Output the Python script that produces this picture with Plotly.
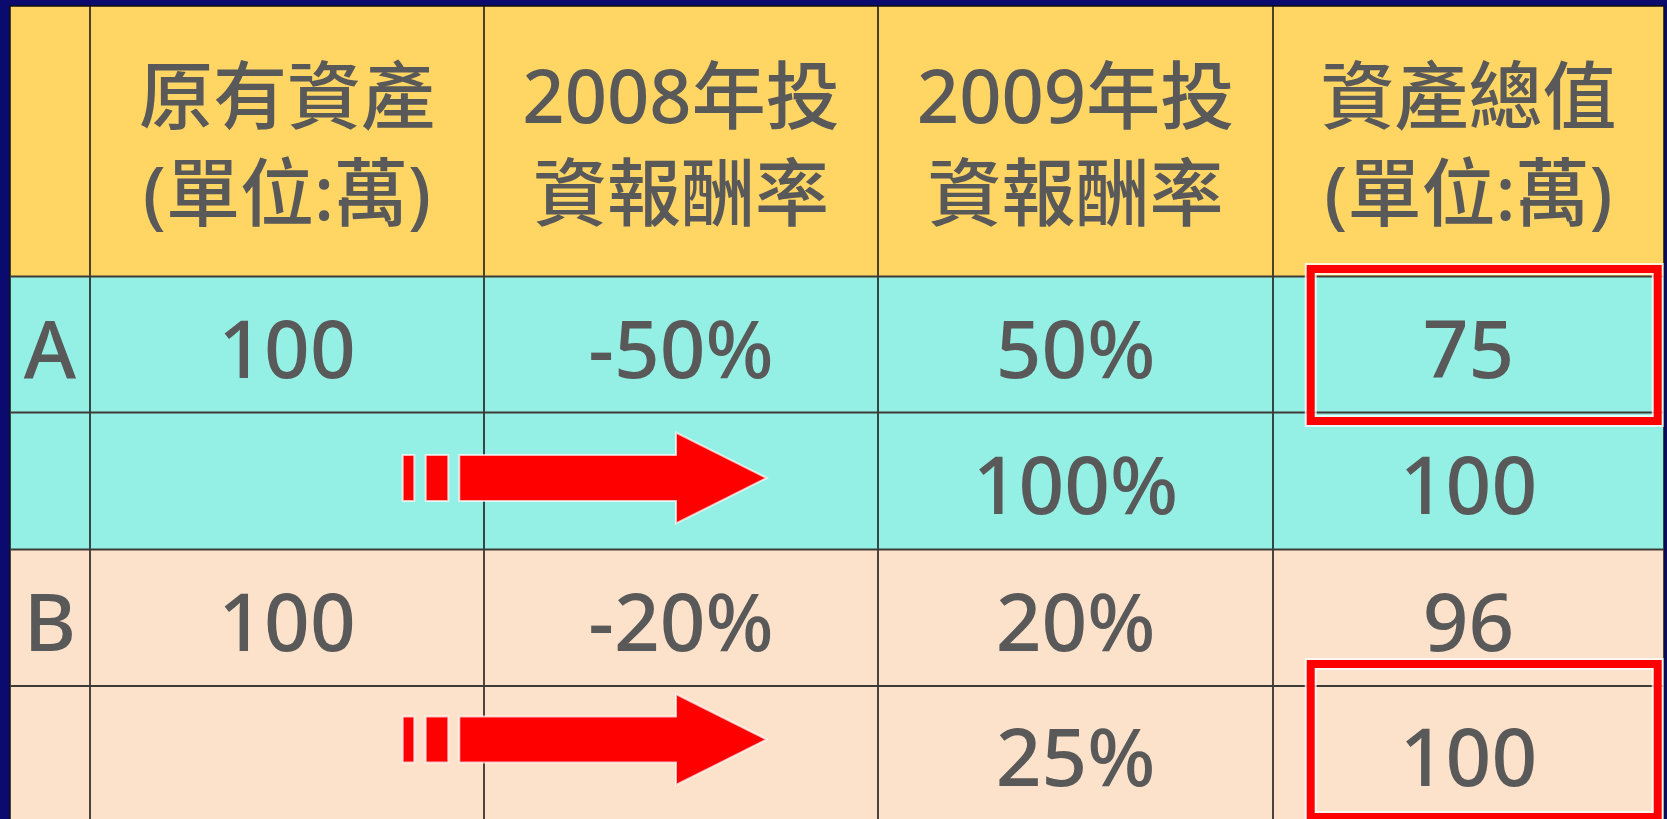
import plotly.graph_objects as go

# ---------------- data ----------------
header_line1 = ["原有資產", "2008年投", "2009年投", "資產總值"]
header_line2 = ["(單位:萬)", "資報酬率", "資報酬率", "(單位:萬)"]
row_labels = ["A", "", "B", ""]
original_assets = [100, None, 100, None]
return_2008 = [-50, None, -20, None]
return_2009 = [50, 100, 20, 25]
total_value = [75, 100, 96, 100]
highlight_rows = [0, 3]      # rows whose total value is boxed in red
arrow_rows = [1, 3]          # rows carrying the red arrow

# ---------------- layout constants ----------------
W, H = 1667, 819
NAVY = "#0B0A6E"
YELLOW = "#FFD563"
TEAL = "#94F0E4"
PEACH = "#FDE2CB"
TEXT = "#595959"
RED = "#FF0000"
col_edges = [10, 90, 484, 878, 1273, 1664]
row_edges = [6, 276.5, 412.5, 549.5, 686, 819]
row_fill = [TEAL, TEAL, PEACH, PEACH]
FONT = "Noto Sans, Noto Sans CJK TC, sans-serif"

col_c = [(col_edges[i] + col_edges[i + 1]) / 2 for i in range(5)]
row_c = [(row_edges[i + 1] + row_edges[i + 2]) / 2 for i in range(4)]
text_dy = 13

fig = go.Figure()
shapes = []

# backgrounds
shapes.append(dict(type="rect", xref="x", yref="y", x0=col_edges[0], x1=col_edges[-1],
                   y0=row_edges[0], y1=row_edges[1], fillcolor=YELLOW, line_width=0, layer="below"))
for r in range(4):
    shapes.append(dict(type="rect", xref="x", yref="y", x0=col_edges[0], x1=col_edges[-1],
                       y0=row_edges[r + 1], y1=row_edges[r + 2], fillcolor=row_fill[r],
                       line_width=0, layer="below"))

# grid lines
for i, x in enumerate(col_edges):
    shapes.append(dict(type="line", xref="x", yref="y", x0=x, x1=x, y0=row_edges[0], y1=row_edges[-1],
                       line=dict(color="#111111", width=1.5), layer="below"))
for j, y in enumerate(row_edges[:-1]):
    shapes.append(dict(type="line", xref="x", yref="y", x0=col_edges[0], x1=col_edges[-1], y0=y, y1=y,
                       line=dict(color="#3E3A36" if j > 0 else "#111111", width=2 if j > 0 else 1.5),
                       layer="below"))

# header text (two lines per cell)
headers = [f"{a}<br>{b}" for a, b in zip(header_line1, header_line2)]
hfont = dict(family=FONT, size=74, color=TEXT, weight=500)
fig.add_trace(go.Scatter(x=col_c[1:], y=[153] * 4, mode="text", text=headers,
                         textfont=hfont, hoverinfo="skip"))

# body text
def fmt(v, pct=False):
    if v is None:
        return ""
    return f"{v}%" if pct else f"{v}"

columns = [
    row_labels,
    [fmt(v) for v in original_assets],
    [fmt(v, True) for v in return_2008],
    [fmt(v, True) for v in return_2009],
    [fmt(v) for v in total_value],
]
for ci, col in enumerate(columns):
    fig.add_trace(go.Scatter(x=[col_c[ci]] * 4, y=[rc + text_dy for rc in row_c], mode="text",
                             text=col, textfont=dict(family=FONT, size=80, color=TEXT, weight=500),
                             hoverinfo="skip"))

# arrows
arrow_cy = {1: 478, 3: 739.5}
for r in arrow_rows:
    cy = arrow_cy[r]
    sh, hh = 23, 45.5
    halo = dict(color="rgba(255,255,255,0.7)", width=2)
    for (a, b) in [(402.7, 414.3), (425.7, 448.3)]:
        shapes.append(dict(type="rect", xref="x", yref="y", x0=a, x1=b, y0=cy - sh, y1=cy + sh,
                           fillcolor=RED, line=halo, layer="above"))
    path = (f"M 459.3 {cy - sh} L 676 {cy - sh} L 676 {cy - hh} L 766.7 {cy} "
            f"L 676 {cy + hh} L 676 {cy + sh} L 459.3 {cy + sh} Z")
    shapes.append(dict(type="path", xref="x", yref="y", path=path, fillcolor=RED, line=halo,
                       layer="above"))

# red highlight boxes
box_y = {0: (269, 421), 3: (664, 817)}
for r in highlight_rows:
    y0, y1 = box_y[r]
    shapes.append(dict(type="rect", xref="x", yref="y", x0=1310.7, x1=1657.7, y0=y0, y1=y1,
                       line=dict(color="rgba(255,255,255,0.75)", width=12), layer="above"))
    shapes.append(dict(type="rect", xref="x", yref="y", x0=1310.7, x1=1657.7, y0=y0, y1=y1,
                       line=dict(color=RED, width=8), layer="above"))

fig.update_layout(
    width=W, height=H, margin=dict(l=0, r=0, t=0, b=0, pad=0),
    paper_bgcolor=NAVY, plot_bgcolor=NAVY, showlegend=False, shapes=shapes,
    xaxis=dict(range=[0, W], visible=False, fixedrange=True),
    yaxis=dict(range=[H, 0], visible=False, fixedrange=True),
)

fig.write_html("out.html", config={"displayModeBar": False},
               post_script="document.body.style.margin='0';document.body.style.background='" + NAVY + "';")
